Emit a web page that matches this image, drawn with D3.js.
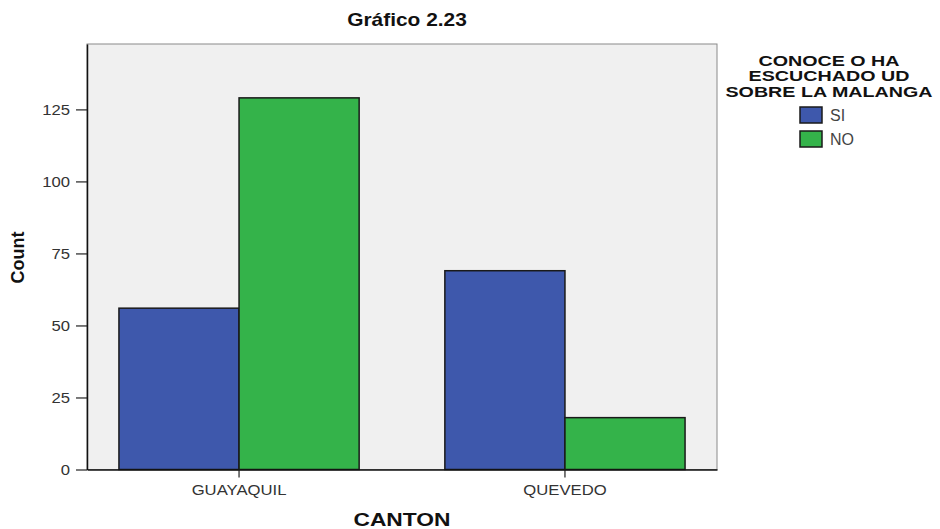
<!DOCTYPE html>
<html>
<head>
<meta charset="utf-8">
<script src="https://cdn.jsdelivr.net/npm/d3@7"></script>
<style>
  html, body { margin: 0; padding: 0; background: #fff; }
  svg { display: block; }
  text { font-family: "Liberation Sans", Arial, Helvetica, sans-serif; }
</style>
</head>
<body>
<svg id="chart" width="940" height="529"></svg>
<script>
const categories = ["GUAYAQUIL", "QUEVEDO"];
const seriesNames = ["SI", "NO"];
const siValues = [56, 69];
const noValues = [129, 18];
const yTicks = [0, 25, 50, 75, 100, 125];
const seriesColors = ["#3e58ac", "#34b34a"];
const titleText = "Gráfico 2.23";
const xTitle = "CANTON";
const yTitle = "Count";
const legendTitle = ["CONOCE O HA", "ESCUCHADO UD", "SOBRE LA MALANGA"];
const yMax = 147.7;

const svg = d3.select("#chart");
const plot = { left: 87, right: 717, top: 44, bottom: 469.5 };

function stretch(sel, f) {
  sel.each(function () {
    const w = this.getComputedTextLength();
    d3.select(this).attr("textLength", w * f).attr("lengthAdjust", "spacingAndGlyphs");
  });
}

const x0 = d3.scaleBand().domain(categories).range([plot.left, plot.right])
  .paddingInner(0.263).paddingOuter(0.098);
const x1 = d3.scaleBand().domain(seriesNames).range([0, x0.bandwidth()]).padding(0);
const y = d3.scaleLinear().domain([0, yMax]).range([plot.bottom, plot.top]);

// plot background
svg.append("rect")
  .attr("x", plot.left).attr("y", plot.top)
  .attr("width", plot.right - plot.left).attr("height", plot.bottom - plot.top)
  .attr("fill", "#f0f0f0").attr("stroke", "#8a8a8a").attr("stroke-width", 1);

// bars
const data = categories.map((c, i) => ({ cat: c, vals: [siValues[i], noValues[i]] }));
const groups = svg.append("g").selectAll("g").data(data).join("g")
  .attr("transform", d => `translate(${x0(d.cat)},0)`);
groups.selectAll("rect")
  .data(d => d.vals.map((v, j) => ({ key: seriesNames[j], v, j })))
  .join("rect")
  .attr("x", d => x1(d.key))
  .attr("y", d => y(d.v))
  .attr("width", x1.bandwidth())
  .attr("height", d => y(0) - y(d.v))
  .attr("fill", d => seriesColors[d.j])
  .attr("stroke", "#1a1a1a").attr("stroke-width", 1.5);

// y axis
const yAxis = svg.append("g").attr("transform", `translate(${plot.left},0)`)
  .call(d3.axisLeft(y).tickValues(yTicks).tickSize(11).tickSizeOuter(0).tickPadding(6));
yAxis.select(".domain").attr("stroke", "#111").attr("stroke-width", 1.5);
yAxis.selectAll(".tick line").attr("stroke", "#222").attr("stroke-width", 1.2);
yAxis.selectAll(".tick text").attr("font-size", 14).attr("fill", "#333")
  .attr("font-family", "Liberation Sans, Arial, sans-serif").attr("dy", "0.36em");
stretch(yAxis.selectAll(".tick text"), 1.19);

// x axis
const xAxis = svg.append("g").attr("transform", `translate(0,${plot.bottom})`)
  .call(d3.axisBottom(x0).tickSize(8).tickSizeOuter(0).tickPadding(8));
xAxis.select(".domain").attr("stroke", "#111").attr("stroke-width", 1.5);
xAxis.selectAll(".tick line").attr("stroke", "#222").attr("stroke-width", 1.2);
xAxis.selectAll(".tick text").attr("font-size", 14).attr("fill", "#333")
  .attr("font-family", "Liberation Sans, Arial, sans-serif");
stretch(xAxis.selectAll(".tick text"), 1.19);

// title
const t = svg.append("text").attr("x", 407).attr("y", 26)
  .attr("text-anchor", "middle").attr("font-size", 19).attr("font-weight", "bold")
  .attr("fill", "#111").text(titleText);
stretch(t, 1.1);

// x title
const xt = svg.append("text").attr("x", 402).attr("y", 526)
  .attr("text-anchor", "middle").attr("font-size", 19).attr("font-weight", "bold")
  .attr("fill", "#111").text(xTitle);
stretch(xt, 1.2);

// y title
svg.append("text").attr("transform", "translate(24,257.5) rotate(-90)")
  .attr("text-anchor", "middle").attr("font-size", 18).attr("font-weight", "bold")
  .attr("fill", "#111").text(yTitle);

// legend
const lt = svg.append("g").selectAll("text").data(legendTitle).join("text")
  .attr("x", 829).attr("y", (d, i) => 65.5 + i * 15.9)
  .attr("text-anchor", "middle").attr("font-size", 15.5).attr("font-weight", "bold")
  .attr("fill", "#111").text(d => d);
stretch(lt, 1.27);

const items = svg.append("g").selectAll("g").data(seriesNames).join("g")
  .attr("transform", (d, i) => `translate(800,${107 + i * 24})`);
items.append("rect").attr("width", 22).attr("height", 16)
  .attr("fill", (d, i) => seriesColors[i]).attr("stroke", "#1a1a1a").attr("stroke-width", 1.5);
items.append("text").attr("x", 30).attr("y", 14)
  .attr("font-size", 16).attr("fill", "#444").text(d => d);
</script>
</body>
</html>
